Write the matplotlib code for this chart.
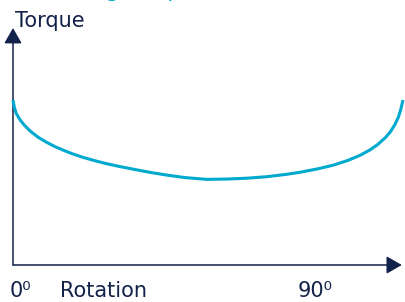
import numpy as np
import matplotlib
matplotlib.use("Agg")
import matplotlib.pyplot as plt

# rotation (fraction of travel) and torque (relative to breakaway value)
rotation = [0.0, 0.003, 0.008, 0.018, 0.030, 0.045, 0.064, 0.085, 0.108,
            0.130, 0.151, 0.180, 0.210, 0.240, 0.275, 0.310, 0.350, 0.394,
            0.440, 0.497, 0.550, 0.600, 0.650, 0.700, 0.736, 0.780, 0.821,
            0.860, 0.890, 0.915, 0.935, 0.954, 0.967, 0.979, 0.988, 0.994,
            0.997, 1.0]
torque = [1.0, 0.960, 0.920, 0.880, 0.845, 0.810, 0.775, 0.745, 0.717,
          0.695, 0.675, 0.652, 0.632, 0.614, 0.596, 0.580, 0.562, 0.545,
          0.530, 0.519, 0.521, 0.526, 0.535, 0.549, 0.562, 0.582, 0.605,
          0.635, 0.665, 0.697, 0.730, 0.770, 0.805, 0.850, 0.895, 0.940,
          0.970, 1.0]

title = "Unseating Torque"
y_label = "Torque"
x_label = "Rotation"
x_start = "0\u2070"
x_end = "90\u2070"

navy = "#13224a"
teal = "#00a9ce"

plt.rcParams['font.family'] = ['DejaVu Sans']

fig = plt.figure(figsize=(4.05, 3.02), dpi=100)
ax = fig.add_axes([0, 0, 1, 1])
ax.set_xlim(-13 / 390, 392 / 390)
ax.set_ylim(-37 / 165, 265 / 165)
ax.axis('off')

# axes with arrow heads
arrow = dict(arrowstyle='-|>,head_length=0.47,head_width=0.27',
             mutation_scale=20, color=navy, lw=1.1, shrinkA=0, shrinkB=0)
ax.annotate('', xy=(0, 1.436), xytext=(0, 0), arrowprops=arrow)
ax.annotate('', xy=(0.997, 0), xytext=(0, 0), arrowprops=arrow)

ax.plot(rotation, torque, color=teal, lw=2.2, solid_capstyle='butt',
        solid_joinstyle='round', zorder=3)

# title sits mostly above the canvas, as in the source crop
ax.text(-0.0154, 1.625, title, color=teal, fontsize=16, ha='left', va='baseline')
ax.text(0.005, 1.444, y_label, color=navy, fontsize=15, ha='left', va='baseline')
ax.text(-0.0077, -0.194, x_start, color=navy, fontsize=15, ha='left', va='baseline')
ax.text(0.1205, -0.194, x_label, color=navy, fontsize=15, ha='left', va='baseline')
ax.text(0.731, -0.194, x_end, color=navy, fontsize=15, ha='left', va='baseline')

fig.savefig("out.png", dpi=100)
